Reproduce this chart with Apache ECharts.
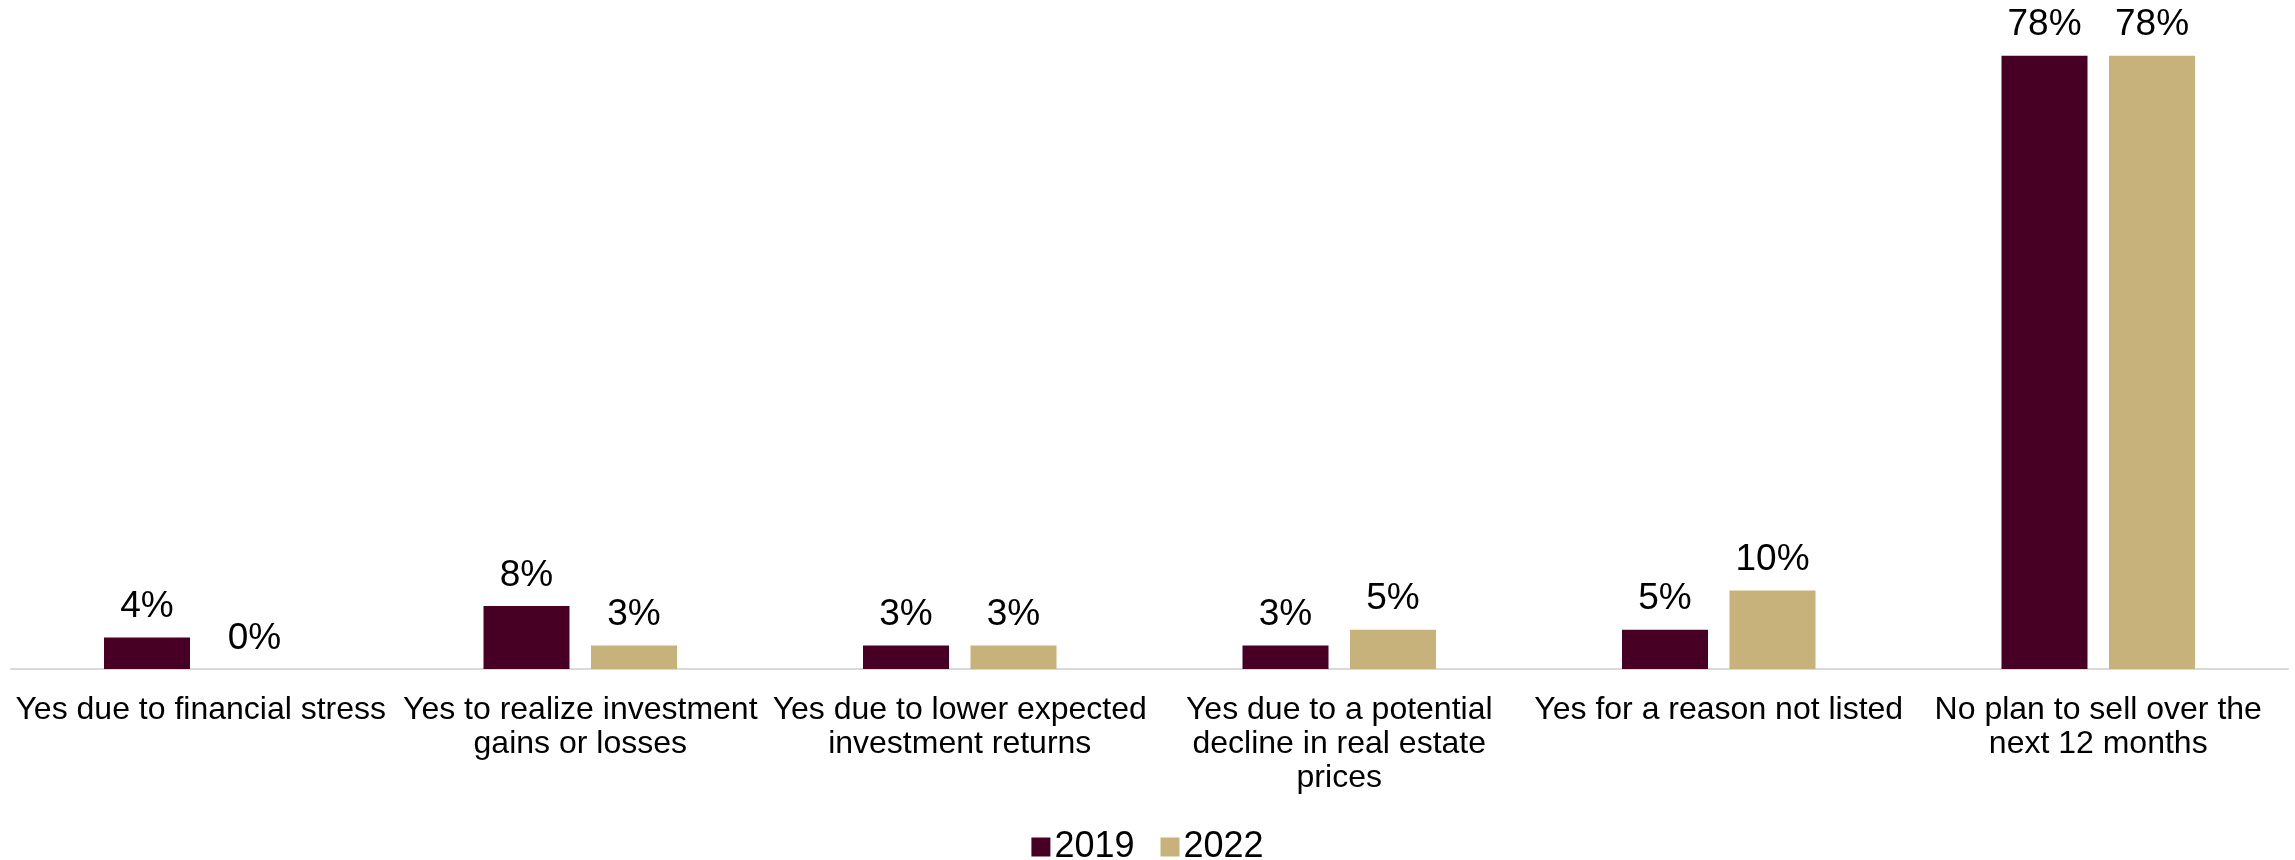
<!DOCTYPE html>
<html>
<head>
<meta charset="utf-8">
<title>Plans to sell over the next 12 months</title>
<script src="https://cdn.jsdelivr.net/npm/echarts@6/dist/echarts.min.js"></script>
<style>
  html, body { margin: 0; padding: 0; background: #ffffff; }
  #chart { width: 2295px; height: 860px; }
</style>
</head>
<body>
<div id="chart"></div>
<script>
// Survey answers (categories) and share of respondents per year, in percent
const categories = [
  'Yes due to financial stress',
  'Yes to realize investment\ngains or losses',
  'Yes due to lower expected\ninvestment returns',
  'Yes due to a potential\ndecline in real estate\nprices',
  'Yes for a reason not listed',
  'No plan to sell over the\nnext 12 months'
];
const seriesNames = ['2019', '2022'];
const values2019 = [4, 8, 3, 3, 5, 78];
const values2022 = [0, 3, 3, 5, 10, 78];

const FONT = '"Liberation Sans", Arial, sans-serif';
const colors = ['#470024', '#c8b27b'];

function barSeries(name, data, color) {
  return {
    name: name,
    type: 'bar',
    data: data,
    barWidth: 86,
    barGap: '25%',
    itemStyle: { color: color },
    label: {
      show: true,
      position: 'top',
      distance: 12,
      formatter: '{c}%',
      fontFamily: FONT,
      fontSize: 37,
      color: '#000000'
    }
  };
}

const chart = echarts.init(document.getElementById('chart'), null, { renderer: 'canvas' });
chart.setOption({
  animation: false,
  backgroundColor: '#ffffff',
  color: colors,
  grid: { left: 11, right: 7, top: 40, bottom: 191, containLabel: false },
  legend: {
    data: seriesNames,
    left: 'center',
    top: 824,
    icon: 'rect',
    itemWidth: 19,
    itemHeight: 19,
    itemGap: 26,
    textStyle: { fontFamily: FONT, fontSize: 36, color: '#000000', padding: [0, 0, 0, -1] }
  },
  xAxis: {
    type: 'category',
    data: categories,
    axisLine: { show: true, lineStyle: { color: '#d9d9d9', width: 2 } },
    axisTick: { show: false },
    axisLabel: {
      interval: 0,
      margin: 24,
      fontFamily: FONT,
      fontSize: 32,
      lineHeight: 34,
      color: '#000000',
      align: 'center'
    }
  },
  yAxis: {
    type: 'value',
    min: 0,
    max: 80,
    show: false,
    splitLine: { show: false }
  },
  series: [
    barSeries(seriesNames[0], values2019, colors[0]),
    barSeries(seriesNames[1], values2022, colors[1])
  ]
});
</script>
</body>
</html>
